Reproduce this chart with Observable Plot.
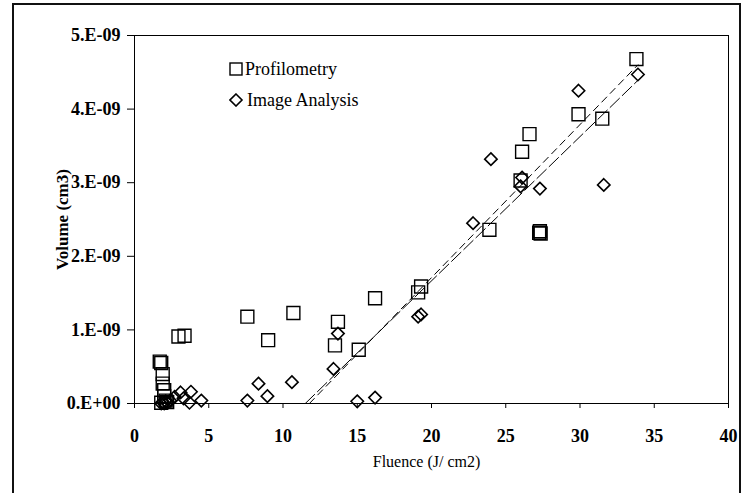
<!DOCTYPE html>
<html><head><meta charset="utf-8">
<script src="https://cdn.jsdelivr.net/npm/d3@7"></script>
<script src="https://cdn.jsdelivr.net/npm/@observablehq/plot@0.6"></script>
<style>
body{margin:0;background:#fff;}
#wrap{position:relative;width:743px;height:493px;overflow:hidden;font-family:"Liberation Serif",serif;background:#fff;}
#border{position:absolute;left:12px;top:3px;width:729px;height:600px;border:2px solid #111;box-sizing:border-box;pointer-events:none;}
#legend{position:absolute;left:229px;top:54px;font-size:18px;line-height:31px;color:#000;}
#legend svg{vertical-align:-1px;margin-right:2px;}
</style></head><body>
<div id="wrap"><div id="border"></div></div>
<script>
// Profilometry (squares)
const profFluence = [1.7, 1.8, 1.9, 1.9, 2.0, 2.0, 2.1, 1.8, 2.2, 2.96, 3.37, 7.6, 9.0, 10.7, 13.5, 13.7, 15.1, 16.2, 19.1, 19.3, 23.9, 26.0, 26.1, 26.6, 27.25, 27.35, 27.3, 29.9, 31.5, 33.8];
const profVolume = [0.57e-9, 0.55e-9, 0.40e-9, 0.27e-9, 0.18e-9, 0.10e-9, 0.04e-9, 0.01e-9, 0.02e-9, 0.91e-9, 0.92e-9, 1.18e-9, 0.86e-9, 1.23e-9, 0.79e-9, 1.11e-9, 0.73e-9, 1.43e-9, 1.51e-9, 1.59e-9, 2.36e-9, 3.03e-9, 3.42e-9, 3.66e-9, 2.32e-9, 2.31e-9, 2.34e-9, 3.93e-9, 3.87e-9, 4.68e-9];
// Image Analysis (diamonds)
const imgFluence = [1.8, 1.9, 2.0, 2.1, 2.2, 2.4, 2.7, 3.1, 3.3, 3.8, 3.7, 4.5, 7.6, 8.35, 8.95, 10.6, 13.4, 13.7, 15.0, 16.2, 19.1, 19.3, 22.8, 24.0, 26.0, 26.1, 27.3, 29.9, 31.6, 33.9];
const imgVolume = [0.00e-9, 0.02e-9, 0.00e-9, 0.03e-9, 0.01e-9, 0.04e-9, 0.09e-9, 0.15e-9, 0.07e-9, 0.16e-9, 0.01e-9, 0.04e-9, 0.04e-9, 0.27e-9, 0.10e-9, 0.29e-9, 0.47e-9, 0.95e-9, 0.03e-9, 0.08e-9, 1.18e-9, 1.21e-9, 2.45e-9, 3.32e-9, 2.95e-9, 3.07e-9, 2.92e-9, 4.25e-9, 2.97e-9, 4.47e-9];
// Linear trendlines (slope, intercept) and fluence range
const profFitSlope = 0.208e-9, profFitIntercept = -2.45e-9;
const imgFitSlope = 0.196e-9, imgFitIntercept = -2.254e-9;
const fitMaxFluence = 33.9;
// Ticks
const xTicks = [0, 5, 10, 15, 20, 25, 30, 35, 40];
const yTicks = [0, 1e-9, 2e-9, 3e-9, 4e-9, 5e-9];
const yTickLabels = ["0.E+00", "1.E-09", "2.E-09", "3.E-09", "4.E-09", "5.E-09"];
const seriesNames = ["Profilometry", "Image Analysis"];
const xLabel = "Fluence (J/ cm2)";
const yLabel = "Volume (cm3)";

const prof = profFluence.map((x, i) => ({x, y: profVolume[i]}));
const img = imgFluence.map((x, i) => ({x, y: imgVolume[i]}));
const fitLine = (s, b) => [{x: -b / s, y: 0}, {x: fitMaxFluence, y: s * fitMaxFluence + b}];

const chart = Plot.plot({
  width: 743, height: 493,
  marginLeft: 134, marginTop: 35, marginRight: 15, marginBottom: 90,
  x: {domain: [0, 40]},
  y: {domain: [0, 5e-9]},
  style: {fontFamily: "Liberation Serif, serif", fontSize: "15px", color: "#000", background: "transparent"},
  marks: [
    Plot.frame({stroke: "#000", strokeWidth: 1}),
    Plot.axisX({ticks: xTicks, tickSize: 5, tickPadding: 21, fontWeight: "bold", fontSize: 18, label: null}),
    Plot.axisY({ticks: yTicks, tickSize: 7, tickPadding: 7, fontWeight: "bold", fontSize: 18, label: null,
      tickFormat: d => yTickLabels[yTicks.findIndex(t => Math.abs(t - d) < 1e-12)]}),
    Plot.text([xLabel], {frameAnchor: "bottom", dx: -5, dy: 63, fontSize: 16, text: d => d}),
    Plot.text([yLabel], {frameAnchor: "left", textAnchor: "middle", dx: -72, rotate: -90, fontSize: 17, fontWeight: "bold", text: d => d}),
    Plot.line(fitLine(profFitSlope, profFitIntercept), {x: "x", y: "y", stroke: "#000", strokeWidth: 1, strokeDasharray: "7,5"}),
    Plot.line(fitLine(imgFitSlope, imgFitIntercept), {x: "x", y: "y", stroke: "#000", strokeWidth: 1, strokeDasharray: "13,4"}),
    Plot.dot(prof, {x: "x", y: "y", symbol: "square", r: 7.3, stroke: "#000", strokeWidth: 1.4, fill: "none"}),
    Plot.dot(img, {x: "x", y: "y", symbol: "diamond2", r: 5.6, stroke: "#000", strokeWidth: 1.6, fill: "none"})
  ]
});
const wrap = document.getElementById("wrap");
chart.style.position = "absolute";
chart.style.left = "0px";
chart.style.top = "0px";
wrap.insertBefore(chart, wrap.firstChild);

const legend = document.createElement("div");
legend.id = "legend";
legend.innerHTML =
  `<div><svg width="14" height="14"><rect x="1" y="1" width="12" height="12" fill="none" stroke="#000" stroke-width="1.4"/></svg>${seriesNames[0]}</div>` +
  `<div><svg width="16" height="14"><path d="M7,1 L13,7 L7,13 L1,7 Z" fill="none" stroke="#000" stroke-width="1.6"/></svg>${seriesNames[1]}</div>`;
wrap.appendChild(legend);
</script>
</body></html>
